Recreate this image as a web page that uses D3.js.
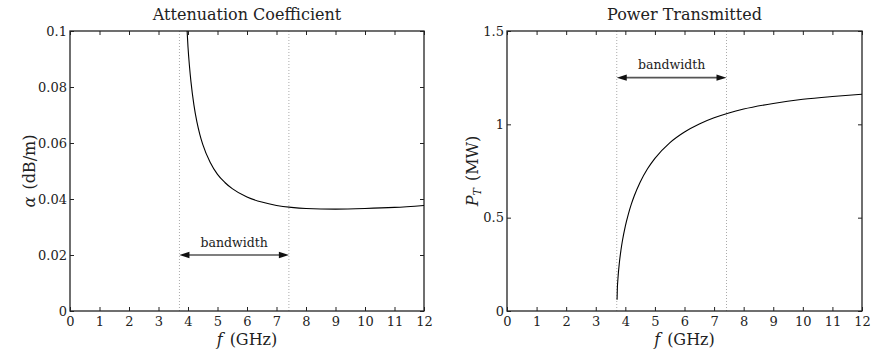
<!DOCTYPE html>
<html>
<head>
<meta charset="utf-8">
<script src="https://cdn.jsdelivr.net/npm/d3@7"></script>
<style>
  body { margin: 0; background: #fff; }
  text { font-family: "DejaVu Serif", serif; fill: #222; }
</style>
</head>
<body>
<svg id="chart" width="882" height="352"></svg>
<script>
// values
const freqTicks = [0, 1, 2, 3, 4, 5, 6, 7, 8, 9, 10, 11, 12];
const alphaTicks = [0, 0.02, 0.04, 0.06, 0.08, 0.1];
const alphaTickLabels = ["0", "0.02", "0.04", "0.06", "0.08", "0.1"];
const powerTicks = [0, 0.5, 1, 1.5];
const powerTickLabels = ["0", "0.5", "1", "1.5"];

// band edges (GHz): cutoff and twice cutoff
const bandEdges = [3.71, 7.42];

// attenuation coefficient curve, dB/m
const alphaFreq = [3.97, 4.0, 4.05, 4.1, 4.2, 4.3, 4.4, 4.5, 4.75, 5.0, 5.25, 5.5, 6.0, 6.5, 7.0, 7.5, 8.0, 9.0, 10.0, 11.0, 12.0];
const alphaVals = [0.100, 0.0943, 0.0874, 0.0819, 0.0736, 0.0676, 0.0631, 0.0595, 0.0531, 0.0488, 0.0459, 0.0437, 0.0407, 0.0389, 0.0377, 0.0370, 0.0366, 0.0364, 0.0366, 0.0370, 0.0377];

// transmitted power curve, MW
const powerFreq = [3.72, 3.73, 3.75, 3.8, 3.85, 3.9, 4.0, 4.1, 4.2, 4.3, 4.5, 4.75, 5.0, 5.5, 6.0, 6.5, 7.0, 7.5, 8.0, 9.0, 10.0, 11.0, 12.0];
const powerVals = [0.06, 0.12, 0.173, 0.261, 0.324, 0.375, 0.455, 0.518, 0.571, 0.616, 0.690, 0.762, 0.818, 0.901, 0.959, 1.002, 1.035, 1.061, 1.082, 1.112, 1.134, 1.149, 1.161];

const svg = d3.select("#chart");
const plotTop = 31, plotBottom = 311;

function drawPanel(cfg) {
    const x = d3.scaleLinear().domain([0, 12]).range([cfg.left, cfg.right]);
    const y = d3.scaleLinear().domain(cfg.yDomain).range([plotBottom, plotTop]);
    const g = svg.append("g");

    // clip for the curve
    g.append("clipPath").attr("id", cfg.id + "-clip")
        .append("rect")
        .attr("x", cfg.left).attr("y", plotTop)
        .attr("width", cfg.right - cfg.left).attr("height", plotBottom - plotTop);

    // band edges, dotted
    g.selectAll(".edge")
        .data(bandEdges)
        .join("line")
        .attr("x1", d => x(d)).attr("x2", d => x(d))
        .attr("y1", plotTop).attr("y2", plotBottom)
        .attr("stroke", "#aaa")
        .attr("stroke-width", 1)
        .attr("stroke-dasharray", "1,2");

    // axes, ticks pointing inward on all four sides
    g.append("g")
        .attr("transform", `translate(0,${plotBottom})`)
        .call(d3.axisBottom(x).tickValues(freqTicks).tickSize(-4).tickPadding(6).tickFormat(d3.format("d")))
        .call(a => a.select(".domain").remove())
        .call(a => a.selectAll("text").style("font-size", "13px").style("font-family", "DejaVu Serif"));
    g.append("g")
        .attr("transform", `translate(0,${plotTop})`)
        .call(d3.axisTop(x).tickValues(freqTicks).tickSize(-4).tickFormat(""))
        .call(a => a.select(".domain").remove());
    g.append("g")
        .attr("transform", `translate(${cfg.left},0)`)
        .call(d3.axisLeft(y).tickValues(cfg.ticks).tickSize(-4).tickPadding(3)
            .tickFormat((d, i) => cfg.tickLabels[i]))
        .call(a => a.select(".domain").remove())
        .call(a => a.selectAll("text").style("font-size", "13px").style("font-family", "DejaVu Serif"));
    g.append("g")
        .attr("transform", `translate(${cfg.right},0)`)
        .call(d3.axisRight(y).tickValues(cfg.ticks).tickSize(-4).tickFormat(""))
        .call(a => a.select(".domain").remove());
    g.selectAll(".tick line").attr("stroke", "#222");

    // box
    g.append("rect")
        .attr("x", cfg.left).attr("y", plotTop)
        .attr("width", cfg.right - cfg.left).attr("height", plotBottom - plotTop)
        .attr("fill", "none").attr("stroke", "#222").attr("stroke-width", 1.3);

    // curve
    const line = d3.line()
        .x(d => x(d[0]))
        .y(d => y(d[1]))
        .curve(d3.curveMonotoneX);
    g.append("path")
        .datum(d3.zip(cfg.xs, cfg.ys))
        .attr("clip-path", `url(#${cfg.id}-clip)`)
        .attr("d", line)
        .attr("fill", "none")
        .attr("stroke", "#000")
        .attr("stroke-width", 1.1);

    // bandwidth arrow
    const ay = y(cfg.arrowY), xa = x(bandEdges[0]), xb = x(bandEdges[1]);
    const head = 10, hw = 3.2;
    g.append("line")
        .attr("x1", xa + head - 1).attr("x2", xb - head + 1)
        .attr("y1", ay).attr("y2", ay)
        .attr("stroke", "#555").attr("stroke-width", 1.6);
    g.append("path")
        .attr("d", `M${xa},${ay}L${xa + head},${ay - hw}L${xa + head},${ay + hw}Z`)
        .attr("fill", "#111");
    g.append("path")
        .attr("d", `M${xb},${ay}L${xb - head},${ay - hw}L${xb - head},${ay + hw}Z`)
        .attr("fill", "#111");
    g.append("text")
        .attr("x", (xa + xb) / 2).attr("y", ay - 8.5)
        .attr("text-anchor", "middle")
        .style("font-size", "12.5px")
        .text("bandwidth");

    // title
    g.append("text")
        .attr("x", (cfg.left + cfg.right) / 2).attr("y", 20)
        .attr("text-anchor", "middle")
        .style("font-size", "16px")
        .text(cfg.title);

    // x label
    const xl = g.append("text")
        .attr("x", (cfg.left + cfg.right) / 2).attr("y", 345)
        .attr("text-anchor", "middle")
        .style("font-size", "16px");
    xl.append("tspan").style("font-style", "italic").text("f");
    xl.append("tspan").attr("dx", 7).text("(GHz)");

    // y label
    const yl = g.append("text")
        .attr("transform", `translate(${cfg.yLabelX},${(plotTop + plotBottom) / 2}) rotate(-90)`)
        .attr("text-anchor", "middle")
        .style("font-size", "16px");
    cfg.yLabel(yl);
}

drawPanel({
    id: "atten", left: 70, right: 424,
    yDomain: [0, 0.1], ticks: alphaTicks, tickLabels: alphaTickLabels,
    xs: alphaFreq, ys: alphaVals, arrowY: 0.02,
    title: "Attenuation Coefficient", yLabelX: 35,
    yLabel: t => {
        t.append("tspan").style("font-style", "italic").text("α");
        t.append("tspan").attr("dx", 7).text("(dB/m)");
    }
});

drawPanel({
    id: "power", left: 507, right: 862,
    yDomain: [0, 1.5], ticks: powerTicks, tickLabels: powerTickLabels,
    xs: powerFreq, ys: powerVals, arrowY: 1.25,
    title: "Power Transmitted", yLabelX: 478,
    yLabel: t => {
        t.append("tspan").style("font-style", "italic").text("P");
        t.append("tspan").style("font-style", "italic").style("font-size", "11px").attr("dy", 3).text("T");
        t.append("tspan").attr("dy", -3).attr("dx", 7).text("(MW)");
    }
});
</script>
</body>
</html>
